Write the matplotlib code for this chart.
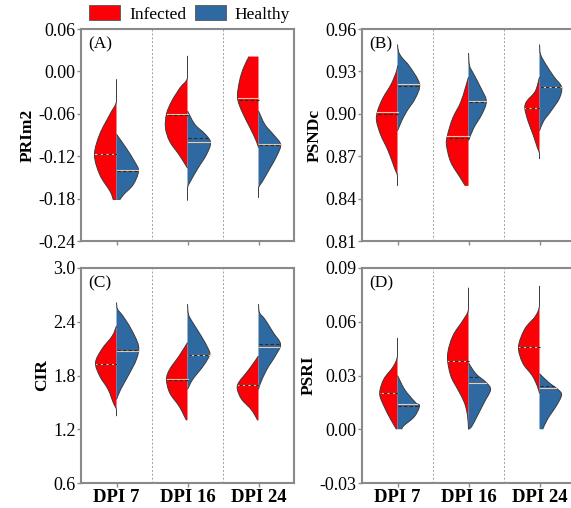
import numpy as np
import matplotlib
matplotlib.use("Agg")
import matplotlib.pyplot as plt
from matplotlib.path import Path
from matplotlib.patches import PathPatch, Patch

plt.rcParams['font.family'] = ['Liberation Serif', 'DejaVu Serif']

# categories
dpi_labels = ["DPI 7", "DPI 16", "DPI 24"]
group_labels = ["Infected", "Healthy"]

# violin outlines: (value, density) pairs, top to bottom
prim2_inf = [
    [(-0.011, 0), (-0.042, 0), (-0.060, 6), (-0.089, 16), (-0.118, 21), (-0.146, 16), (-0.170, 6), (-0.182, 3)],
    [(0.022, 0), (-0.009, 0), (-0.023, 7), (-0.042, 15), (-0.060, 20), (-0.080, 21), (-0.099, 17), (-0.118, 8), (-0.132, 2), (-0.137, 0)],
    [(0.021, 9), (0.006, 14), (-0.013, 18), (-0.037, 20), (-0.056, 16), (-0.080, 8), (-0.099, 2), (-0.108, 0)],
]
prim2_hea = [
    [(-0.089, 0), (-0.108, 9), (-0.127, 17), (-0.141, 21), (-0.160, 16), (-0.174, 7), (-0.182, 3)],
    [(-0.056, 0), (-0.075, 7), (-0.089, 17), (-0.101, 22), (-0.118, 18), (-0.137, 10), (-0.155, 3), (-0.165, 0), (-0.183, 0)],
    [(-0.056, 0), (-0.075, 6), (-0.089, 14), (-0.103, 21), (-0.118, 18), (-0.137, 11), (-0.155, 4), (-0.165, 0), (-0.179, 0)],
]
prim2_med_inf = [-0.117, -0.060, -0.038]
prim2_med_hea = [-0.140, -0.100, -0.103]
prim2_mean_inf = [-0.117, -0.061, -0.040]
prim2_mean_hea = [-0.141, -0.094, -0.104]

psndc_inf = [
    [(0.934, 0), (0.930, 1), (0.921, 6), (0.911, 14), (0.902, 19), (0.895, 20), (0.885, 16), (0.874, 9), (0.862, 3), (0.856, 0), (0.849, 0)],
    [(0.926, 0), (0.909, 7), (0.897, 15), (0.885, 20), (0.878, 21), (0.866, 17), (0.855, 8), (0.849, 3)],
    [(0.926, 0), (0.916, 4), (0.909, 12), (0.904, 14), (0.895, 11), (0.885, 6), (0.876, 2), (0.872, 0), (0.868, 0)],
]
psndc_hea = [
    [(0.949, 0), (0.944, 1), (0.940, 4), (0.933, 12), (0.921, 21), (0.911, 17), (0.902, 9), (0.895, 4), (0.888, 0)],
    [(0.943, 0), (0.934, 1), (0.928, 5), (0.918, 12), (0.909, 17), (0.900, 13), (0.890, 5), (0.881, 0)],
    [(0.949, 0), (0.942, 1), (0.935, 6), (0.926, 14), (0.919, 21), (0.911, 19), (0.902, 11), (0.895, 4), (0.888, 0)],
]
psndc_med_inf = [0.901, 0.884, 0.904]
psndc_med_hea = [0.921, 0.909, 0.919]
psndc_mean_inf = [0.900, 0.883, 0.904]
psndc_mean_hea = [0.920, 0.908, 0.919]

cir_inf = [
    [(2.354, 0), (2.242, 4), (2.093, 14), (1.943, 20), (1.794, 16), (1.645, 8), (1.495, 3), (1.420, 0), (1.346, 0)],
    [(2.167, 0), (2.018, 8), (1.869, 17), (1.757, 20), (1.607, 17), (1.458, 8), (1.346, 3), (1.301, 1)],
    [(2.018, 0), (1.869, 9), (1.719, 19), (1.640, 20), (1.533, 16), (1.421, 7), (1.327, 2), (1.300, 1)],
]
cir_hea = [
    [(2.615, 0), (2.540, 1), (2.466, 6), (2.317, 14), (2.130, 21), (1.980, 19), (1.794, 11), (1.645, 4), (1.533, 0)],
    [(2.597, 0), (2.480, 1), (2.391, 5), (2.242, 13), (2.093, 20), (2.026, 21), (1.906, 15), (1.757, 5), (1.645, 0)],
    [(2.597, 0), (2.500, 1), (2.429, 6), (2.280, 14), (2.149, 21), (2.018, 16), (1.869, 8), (1.719, 2), (1.645, 0)],
]
cir_med_inf = [1.932, 1.757, 1.690]
cir_med_hea = [2.074, 2.026, 2.120]
cir_mean_inf = [1.930, 1.745, 1.690]
cir_mean_hea = [2.080, 2.030, 2.150]

psri_inf = [
    [(0.051, 0), (0.041, 0), (0.035, 4), (0.028, 13), (0.020, 17), (0.013, 13), (0.005, 6), (0.000, 1)],
    [(0.079, 0), (0.067, 0), (0.061, 5), (0.052, 15), (0.041, 20), (0.030, 17), (0.022, 10), (0.015, 4), (0.008, 1), (0.000, 0)],
    [(0.080, 0), (0.069, 0), (0.063, 4), (0.056, 14), (0.046, 20), (0.037, 16), (0.030, 7), (0.024, 2), (0.020, 0)],
]
psri_hea = [
    [(0.030, 0), (0.022, 7), (0.015, 17), (0.013, 21), (0.007, 16), (0.002, 6), (0.000, 4)],
    [(0.037, 0), (0.031, 7), (0.026, 17), (0.022, 21), (0.015, 15), (0.007, 8), (0.0015, 3), (0.000, 0)],
    [(0.031, 0), (0.026, 9), (0.022, 18), (0.019, 21), (0.013, 16), (0.006, 8), (0.000, 3)],
]
psri_med_inf = [0.020, 0.038, 0.046]
psri_med_hea = [0.014, 0.026, 0.023]
psri_mean_inf = [0.020, 0.038, 0.046]
psri_mean_hea = [0.013, 0.029, 0.024]

panels = [
    ("(A)", "PRIm2", prim2_inf, prim2_hea, prim2_med_inf, prim2_med_hea, prim2_mean_inf, prim2_mean_hea,
     np.arange(-0.24, 0.061, 0.06), "{:.2f}"),
    ("(B)", "PSNDc", psndc_inf, psndc_hea, psndc_med_inf, psndc_med_hea, psndc_mean_inf, psndc_mean_hea,
     np.arange(0.81, 0.961, 0.03), "{:.2f}"),
    ("(C)", "CIR", cir_inf, cir_hea, cir_med_inf, cir_med_hea, cir_mean_inf, cir_mean_hea,
     np.arange(0.6, 3.01, 0.6), "{:.1f}"),
    ("(D)", "PSRI", psri_inf, psri_hea, psri_med_inf, psri_med_hea, psri_mean_inf, psri_mean_hea,
     np.arange(-0.03, 0.091, 0.03), "{:.2f}"),
]

RED = "#fb0006"
BLUE = "#2f69a2"
GRAY = "#8a8a8a"
MAXW = 0.31 / 21.0


def half_violin(ax, x0, prof, side, color):
    ys = [p[0] for p in prof]
    pts = np.array([(x0 + side * p[1] * MAXW, p[0]) for p in prof])
    # smooth outline through the read points (catmull-rom as bezier)
    ext = np.vstack([pts[0], pts, pts[-1]])
    verts = [tuple(pts[0])]
    codes = [Path.MOVETO]
    for i in range(1, len(ext) - 2):
        p0, p1, p2, p3 = ext[i - 1], ext[i], ext[i + 1], ext[i + 2]
        c1 = p1 + (p2 - p0) / 6
        c2 = p2 - (p3 - p1) / 6
        c1[0] = x0 + side * max(0, side * (c1[0] - x0))
        c2[0] = x0 + side * max(0, side * (c2[0] - x0))
        verts += [tuple(c1), tuple(c2), tuple(p2)]
        codes += [Path.CURVE4] * 3
    outline = Path(verts, codes)
    fill_verts = [(x0, ys[0])] + verts + [(x0, ys[-1]), (x0, ys[0])]
    fill_codes = [Path.MOVETO, Path.LINETO] + codes[1:] + [Path.LINETO, Path.CLOSEPOLY]
    ax.add_patch(PathPatch(Path(fill_verts, fill_codes), facecolor=color, edgecolor='none', zorder=2))
    ax.add_patch(PathPatch(outline, facecolor='none', edgecolor='#3a3a3a', lw=0.7, zorder=3))
    return ys, [p[1] for p in prof]


def width_at(ys, ws, y):
    return np.interp(y, ys[::-1], ws[::-1]) * MAXW


fig = plt.figure(figsize=(5.71, 5.08), dpi=100)
W, H = 571.0, 508.0
boxes = [(81, 29, 241), (362, 29, 241), (81, 268, 483), (362, 268, 483)]

for (label, ylab, inf, hea, m_inf, m_hea, mn_inf, mn_hea, yt, fmt), (lx, top, bot) in zip(panels, boxes):
    ax = fig.add_axes([lx / W, 1 - bot / H, 213 / W, (bot - top) / H])
    for i in range(3):
        for prof, side, color, med, mean in ((inf[i], -1, RED, m_inf[i], mn_inf[i]),
                                             (hea[i], 1, BLUE, m_hea[i], mn_hea[i])):
            ys, ws = half_violin(ax, i, prof, side, color)
            wm = width_at(ys, ws, med)
            ax.plot([i, i + side * wm], [med, med], color='#f3c9a6', lw=0.8, zorder=4)
            wn = width_at(ys, ws, mean)
            ax.plot([i, i + side * wn], [mean, mean], color='#2b2b2b', lw=0.8,
                    ls=(0, (3, 2)), zorder=4)
    for xv in (0.5, 1.5):
        ax.axvline(xv, color='#a0a0a0', lw=0.7, ls=(0, (2, 2)), zorder=1)
    ax.set_xlim(-0.5, 2.5)
    ax.set_ylim(yt[0], yt[-1])
    ax.set_yticks(yt)
    ax.set_yticklabels([fmt.format(v) for v in yt], fontsize=13)
    ax.set_xticks(range(3))
    if top > 200:
        ax.set_xticklabels(dpi_labels, fontsize=13.5, fontweight='bold')
    else:
        ax.set_xticklabels([])
    ax.set_ylabel(ylab, fontsize=12.5, fontweight='bold', labelpad=2)
    ax.tick_params(direction='out', length=3, width=1, color=GRAY, pad=1)
    for sp in ax.spines.values():
        sp.set_color(GRAY)
        sp.set_linewidth(1.5)
    ax.text(0.035, 0.965, label, transform=ax.transAxes, fontsize=12.5, va='top', ha='left')

handles = [Patch(facecolor=RED, edgecolor='#555555', lw=0.6),
           Patch(facecolor=BLUE, edgecolor='#555555', lw=0.6)]
fig.legend(handles, group_labels, loc='center left', bbox_to_anchor=(89 / W, 1 - 14 / H),
           ncol=2, frameon=False, fontsize=12.5, handlelength=1.8, handleheight=0.9,
           handletextpad=0.5, columnspacing=0.5, borderpad=0, borderaxespad=0)

fig.savefig("out.png", dpi=100)
